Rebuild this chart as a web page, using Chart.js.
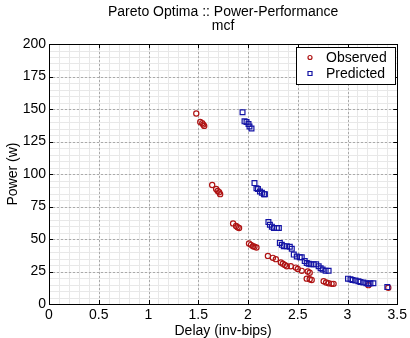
<!DOCTYPE html>
<html>
<head>
<meta charset="utf-8">
<script src="https://cdn.jsdelivr.net/npm/chart.js@4"></script>
<style>
  html, body { margin: 0; padding: 0; background: #fff; }
  #wrap { width: 410px; height: 338px; }
</style>
</head>
<body>
<div id="wrap"><canvas id="paretoChart" width="410" height="338"></canvas></div>
<script>
// Pareto optima for mcf, delay vs power

const titleLines = ["Pareto Optima :: Power-Performance", "mcf"];
const seriesNames = ["Observed", "Predicted"];

const obsDelay = [
  1.48, 1.52, 1.54, 1.55, 1.56,
  1.64, 1.68, 1.695, 1.71, 1.72,
  1.85, 1.88, 1.895, 1.91,
  2.01, 2.03, 2.05, 2.065, 2.085,
  2.20, 2.25, 2.28, 2.33, 2.35, 2.37, 2.39, 2.43, 2.48, 2.50, 2.54,
  2.59, 2.60, 2.62, 2.62, 2.64,
  2.76, 2.785, 2.81, 2.84, 2.86,
  3.21, 3.41
];
const obsPower = [
  146.5, 140, 139, 138, 137,
  91.5, 88.5, 87, 86, 84.5,
  62, 60, 59, 58.5,
  46.5, 45.5, 44.5, 44, 43.5,
  37, 35.5, 34.5, 32, 31, 30, 29, 29, 28, 27, 25.5,
  19.5, 25, 24, 19, 18.5,
  17.5, 16.5, 16, 15.5, 15.5,
  14.5, 12.5
];

const predDelay = [
  1.945, 1.965, 1.985, 2.005, 2.015, 2.035,
  2.065, 2.085, 2.10, 2.12, 2.14, 2.16, 2.17,
  2.205, 2.22, 2.24, 2.26, 2.29, 2.31,
  2.32, 2.34, 2.36, 2.39, 2.42, 2.44,
  2.46, 2.49, 2.52, 2.54, 2.57, 2.59, 2.61, 2.63, 2.66, 2.685,
  2.71, 2.73, 2.75, 2.78, 2.81,
  3.005, 3.03, 3.05, 3.08, 3.11, 3.13, 3.16, 3.19, 3.21, 3.23, 3.26,
  3.40
];
const predPower = [
  147.5, 140.5, 140, 138.5, 136.5, 135,
  93, 89, 88.5, 86.5, 85.5, 84.5, 84.5,
  63, 61, 59.5, 58.5, 58.5, 58.5,
  47, 45.5, 44.5, 44.5, 44, 42.5,
  38, 36.5, 36, 36, 33, 31.5, 31, 30.5, 30.5, 30.5,
  29, 27.5, 26.5, 25.5, 25.5,
  19.5, 19, 18.5, 18, 17.5, 17, 16.5, 16, 15.5, 16, 16,
  13
];

const xMajor = 0.5, xMinor = 0.1, xMax = 3.5;
const yMajor = 25, yMinor = 5, yMax = 200;

const obsColor = "rgb(175, 20, 20)";
const predColor = "rgb(20, 20, 165)";
const font = "Liberation Sans, Arial, sans-serif";

function toPoints(xs, ys) {
  return xs.map((x, i) => ({ x: x, y: ys[i] }));
}

// minor/major grid + axes box, matlab style
const gridBox = {
  id: "gridBox",
  beforeDatasetsDraw(chart) {
    const ctx = chart.ctx;
    const ca = chart.chartArea;
    const xs = chart.scales.x, ys = chart.scales.y;
    ctx.save();
    ctx.lineWidth = 1;
    ctx.strokeStyle = "rgb(232, 232, 232)";
    ctx.beginPath();
    for (let v = 0; v <= xMax + 1e-9; v += xMinor) {
      const px = Math.round(xs.getPixelForValue(v)) + 0.5;
      ctx.moveTo(px, ca.top); ctx.lineTo(px, ca.bottom);
    }
    for (let v = 0; v <= yMax + 1e-9; v += yMinor) {
      const py = Math.round(ys.getPixelForValue(v)) + 0.5;
      ctx.moveTo(ca.left, py); ctx.lineTo(ca.right, py);
    }
    ctx.stroke();

    ctx.strokeStyle = "rgb(170, 170, 170)";
    ctx.setLineDash([2, 2]);
    ctx.beginPath();
    for (let v = 0; v <= xMax + 1e-9; v += xMajor) {
      const px = Math.round(xs.getPixelForValue(v)) + 0.5;
      ctx.moveTo(px, ca.top); ctx.lineTo(px, ca.bottom);
    }
    for (let v = 0; v <= yMax + 1e-9; v += yMajor) {
      const py = Math.round(ys.getPixelForValue(v)) + 0.5;
      ctx.moveTo(ca.left, py); ctx.lineTo(ca.right, py);
    }
    ctx.stroke();
    ctx.setLineDash([]);

    // ticks pointing inward
    ctx.strokeStyle = "#000";
    ctx.beginPath();
    for (let v = 0; v <= xMax + 1e-9; v += xMajor) {
      const px = Math.round(xs.getPixelForValue(v)) + 0.5;
      ctx.moveTo(px, ca.bottom); ctx.lineTo(px, ca.bottom - 4);
      ctx.moveTo(px, ca.top); ctx.lineTo(px, ca.top + 4);
    }
    for (let v = 0; v <= yMax + 1e-9; v += yMajor) {
      const py = Math.round(ys.getPixelForValue(v)) + 0.5;
      ctx.moveTo(ca.left, py); ctx.lineTo(ca.left + 4, py);
      ctx.moveTo(ca.right, py); ctx.lineTo(ca.right - 4, py);
    }
    ctx.stroke();
    ctx.strokeRect(Math.round(ca.left) + 0.5, Math.round(ca.top) + 0.5,
      Math.round(ca.right - ca.left), Math.round(ca.bottom - ca.top));
    ctx.restore();
  },
  afterDraw(chart) {
    const ctx = chart.ctx;
    const ca = chart.chartArea;
    ctx.save();
    // title
    ctx.fillStyle = "#000";
    ctx.font = "14px " + font;
    ctx.textAlign = "center";
    ctx.textBaseline = "middle";
    const cx = (ca.left + ca.right) / 2;
    titleLines.forEach((t, i) => ctx.fillText(t, cx, 12 + i * 14));

    // legend box inside top right
    const bw = 99, bh = 37;
    const bx = Math.round(ca.right) - 2 - bw, by = Math.round(ca.top) + 3;
    ctx.fillStyle = "#fff";
    ctx.fillRect(bx, by, bw, bh);
    ctx.strokeStyle = "#000";
    ctx.lineWidth = 1;
    ctx.strokeRect(bx + 0.5, by + 0.5, bw, bh);
    chart.data.datasets.forEach((ds, i) => {
      const ly = by + 10.5 + i * 16;
      ctx.strokeStyle = ds.borderColor;
      ctx.lineWidth = 1.2;
      ctx.beginPath();
      if (ds.pointStyle === "rect") {
        ctx.rect(bx + 12, ly - 2, 4, 4);
      } else {
        ctx.arc(bx + 14, ly, 2, 0, Math.PI * 2);
      }
      ctx.stroke();
      ctx.fillStyle = "#000";
      ctx.textAlign = "left";
      ctx.font = "14px " + font;
      ctx.fillText(ds.label, bx + 30, ly + 1);
    });
    ctx.restore();
  }
};

new Chart(document.getElementById("paretoChart"), {
  type: "scatter",
  data: {
    datasets: [
      {
        label: seriesNames[0],
        data: toPoints(obsDelay, obsPower),
        pointStyle: "circle",
        pointRadius: 2.6,
        borderWidth: 1.2,
        borderColor: obsColor,
        backgroundColor: "rgba(0,0,0,0)",
        order: 2
      },
      {
        label: seriesNames[1],
        data: toPoints(predDelay, predPower),
        pointStyle: "rect",
        pointRadius: 3.4,
        borderWidth: 1.2,
        borderColor: predColor,
        backgroundColor: "rgba(0,0,0,0)",
        order: 1
      }
    ]
  },
  options: {
    responsive: false,
    animation: false,
    events: [],
    layout: { padding: { top: 44, right: 12, left: 0, bottom: 0 } },
    plugins: {
      legend: { display: false },
      title: { display: false },
      tooltip: { enabled: false }
    },
    scales: {
      x: {
        type: "linear",
        min: 0,
        max: xMax,
        afterFit(scale) { scale.height = 34; },
        grid: { display: false, drawTicks: false },
        border: { display: false },
        ticks: {
          stepSize: xMajor,
          padding: 3,
          color: "#000",
          font: { family: font, size: 14 },
          callback: (v) => String(Math.round(v * 10) / 10)
        },
        title: {
          display: true,
          text: "Delay (inv-bips)",
          color: "#000",
          font: { family: font, size: 14, lineHeight: 1 },
          padding: { top: 0, bottom: 0 }
        }
      },
      y: {
        type: "linear",
        min: 0,
        max: yMax,
        afterFit(scale) { scale.width = 49; },
        grid: { display: false, drawTicks: false },
        border: { display: false },
        ticks: {
          stepSize: yMajor,
          padding: 3,
          color: "#000",
          font: { family: font, size: 14 }
        },
        title: {
          display: true,
          text: "Power (w)",
          color: "#000",
          font: { family: font, size: 14, lineHeight: 1 },
          padding: { top: 6, bottom: 0 }
        }
      }
    }
  },
  plugins: [gridBox]
});
</script>
</body>
</html>
